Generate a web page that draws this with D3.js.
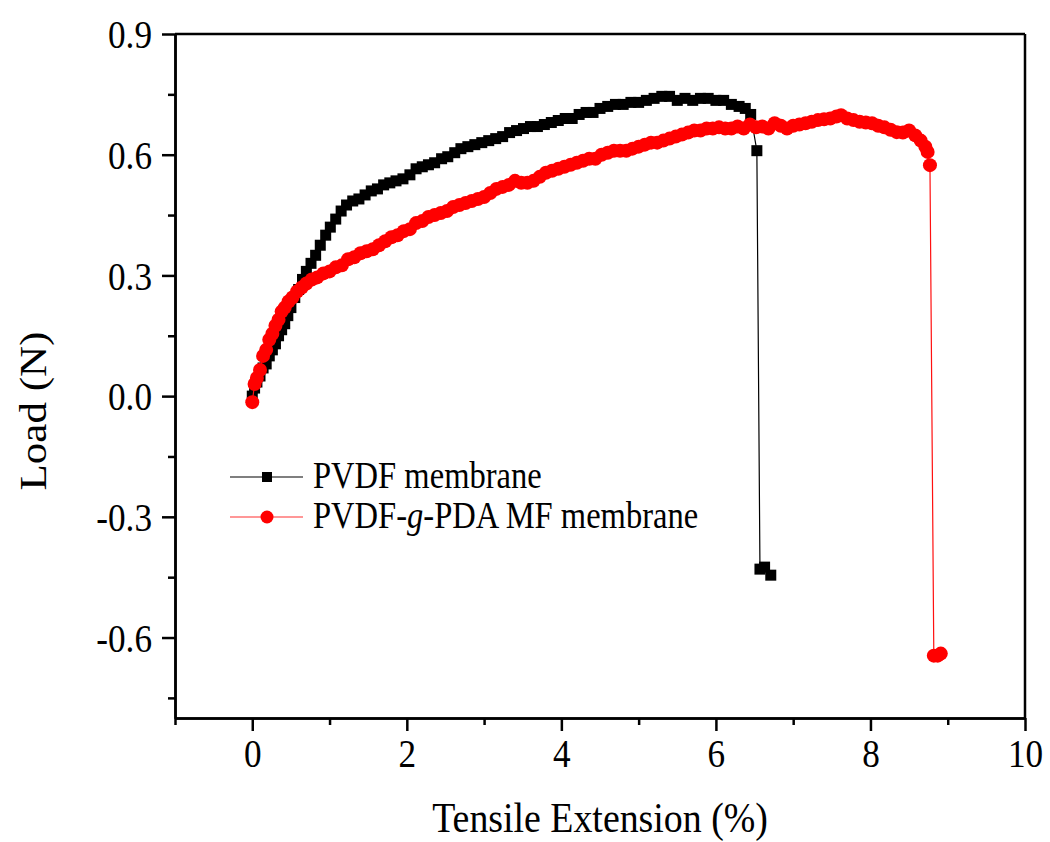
<!DOCTYPE html>
<html>
<head>
<meta charset="utf-8">
<script src="https://cdn.jsdelivr.net/npm/d3@7"></script>
<style>
  body { margin: 0; background: #fff; }
  text { font-family: "Liberation Serif", "Times New Roman", serif; fill: #000; }
</style>
</head>
<body>
<svg id="tensile-chart-svg" width="1050" height="842"></svg>
<script>
// PVDF membrane (black squares)
let pvdfExt = [0.00, 0.03, 0.06, 0.10, 0.14, 0.18, 0.22, 0.26, 0.30, 0.34, 0.38, 0.42, 0.46, 0.50, 0.55,
    0.60, 0.65, 0.70, 0.76, 0.82, 0.88, 0.95, 1.01, 1.08, 1.15, 1.22, 1.30, 1.38, 1.46, 1.54, 1.62, 1.70,
    1.78, 1.86, 1.95, 2.04, 2.12, 2.20, 2.28, 2.36, 2.45, 2.53, 2.62, 2.70, 2.79, 2.88, 2.97, 3.06, 3.15,
    3.24, 3.33, 3.42, 3.51, 3.60, 3.69, 3.78, 3.87, 3.96, 4.05, 4.14, 4.23, 4.32, 4.41, 4.50, 4.60, 4.70,
    4.80, 4.90, 5.00, 5.10, 5.20, 5.30, 5.40, 5.50, 5.60, 5.70, 5.80, 5.90, 6.00, 6.10, 6.20, 6.30, 6.38,
    6.45, 6.53, 6.57, 6.63, 6.71];
let pvdfLoad = [0.000, 0.020, 0.035, 0.050, 0.070, 0.080, 0.100, 0.115, 0.130, 0.150, 0.165, 0.180, 0.200,
    0.220, 0.245, 0.265, 0.290, 0.310, 0.330, 0.350, 0.375, 0.400, 0.420, 0.440, 0.460, 0.475, 0.485, 0.490,
    0.500, 0.510, 0.515, 0.525, 0.530, 0.535, 0.540, 0.550, 0.565, 0.570, 0.575, 0.580, 0.590, 0.595, 0.605,
    0.615, 0.620, 0.625, 0.630, 0.635, 0.640, 0.645, 0.655, 0.660, 0.665, 0.670, 0.670, 0.675, 0.680, 0.685,
    0.690, 0.690, 0.700, 0.705, 0.705, 0.715, 0.720, 0.725, 0.725, 0.730, 0.730, 0.735, 0.740, 0.745, 0.745,
    0.735, 0.740, 0.735, 0.740, 0.740, 0.735, 0.735, 0.725, 0.720, 0.715, 0.700, 0.610, -0.430, -0.425, -0.445];

// PVDF-g-PDA MF membrane (red circles)
let pdaExt = [0.00, 0.03, 0.06, 0.10, 0.14, 0.18, 0.22, 0.26, 0.30, 0.34, 0.38, 0.42, 0.47, 0.52, 0.58,
    0.64, 0.70, 0.77, 0.84, 0.92, 1.00, 1.08, 1.16, 1.24, 1.32, 1.40, 1.48, 1.56, 1.64, 1.72, 1.80, 1.88,
    1.96, 2.04, 2.12, 2.20, 2.28, 2.36, 2.44, 2.52, 2.60, 2.68, 2.76, 2.84, 2.92, 3.00, 3.08, 3.16, 3.24,
    3.32, 3.40, 3.48, 3.56, 3.64, 3.72, 3.80, 3.88, 3.96, 4.04, 4.12, 4.20, 4.28, 4.36, 4.44, 4.52, 4.60,
    4.68, 4.76, 4.84, 4.92, 5.00, 5.08, 5.16, 5.24, 5.32, 5.40, 5.48, 5.56, 5.64, 5.72, 5.80, 5.88, 5.96,
    6.04, 6.12, 6.20, 6.28, 6.36, 6.44, 6.52, 6.60, 6.68, 6.76, 6.84, 6.92, 7.00, 7.08, 7.16, 7.24, 7.32,
    7.40, 7.48, 7.56, 7.62, 7.70, 7.78, 7.86, 7.94, 8.02, 8.10, 8.18, 8.26, 8.34, 8.42, 8.50, 8.58, 8.65,
    8.71, 8.74, 8.77, 8.82, 8.87, 8.91];
let pdaLoad = [-0.015, 0.030, 0.045, 0.065, 0.100, 0.115, 0.140, 0.155, 0.175, 0.190, 0.210, 0.220, 0.235,
    0.245, 0.260, 0.270, 0.280, 0.290, 0.295, 0.305, 0.310, 0.320, 0.325, 0.340, 0.345, 0.355, 0.360, 0.365,
    0.375, 0.385, 0.395, 0.400, 0.410, 0.415, 0.430, 0.435, 0.445, 0.450, 0.455, 0.460, 0.470, 0.475, 0.480,
    0.485, 0.490, 0.495, 0.505, 0.515, 0.520, 0.525, 0.535, 0.530, 0.530, 0.535, 0.545, 0.555, 0.560, 0.565,
    0.570, 0.575, 0.580, 0.585, 0.590, 0.590, 0.600, 0.605, 0.610, 0.610, 0.610, 0.615, 0.620, 0.625, 0.630,
    0.630, 0.635, 0.640, 0.645, 0.650, 0.655, 0.660, 0.660, 0.665, 0.665, 0.668, 0.665, 0.665, 0.670, 0.665,
    0.675, 0.668, 0.670, 0.665, 0.678, 0.672, 0.665, 0.672, 0.675, 0.678, 0.682, 0.686, 0.688, 0.690, 0.695,
    0.698, 0.690, 0.686, 0.682, 0.680, 0.678, 0.672, 0.668, 0.662, 0.656, 0.655, 0.660, 0.648, 0.635, 0.620,
    0.607, 0.574, -0.645, -0.645, -0.640];

let xMajorTicks = [0, 2, 4, 6, 8, 10];
let xMinorTicks = [-1, 1, 3, 5, 7, 9];
let yMajorTicks = [-0.6, -0.3, 0.0, 0.3, 0.6, 0.9];
let yMinorTicks = [-0.75, -0.45, -0.15, 0.15, 0.45, 0.75];

let seriesNames = ["PVDF membrane", "PVDF-g-PDA MF membrane"];

let svg = d3.select('#tensile-chart-svg');
let pad = {t: 34, r: 25, b: 124, l: 175};
let chartW = 1050 - pad.l - pad.r;
let chartH = 842 - pad.t - pad.b;
let squish = 0.88;
let sqSize = 11;
let dotR = 7;

let x = d3.scaleLinear().domain([-1, 10]).range([0, chartW]);
let y = d3.scaleLinear().domain([-0.8, 0.9]).range([chartH, 0]);

let g = svg.append("g").attr("transform", "translate(" + pad.l + "," + pad.t + ")");

// frame (top / right)
g.append("line").attr("x1", 0).attr("x2", chartW).attr("y1", 0).attr("y2", 0)
    .attr("stroke", "#000").attr("stroke-width", 2.5);
g.append("line").attr("x1", chartW).attr("x2", chartW).attr("y1", 0).attr("y2", chartH)
    .attr("stroke", "#000").attr("stroke-width", 2.5);

// bottom axis
let xAxis = g.append("g").attr("transform", "translate(0," + chartH + ")")
    .call(d3.axisBottom(x).tickValues(xMajorTicks).tickSize(13).tickSizeOuter(0).tickFormat(d3.format("d")));
g.append("g").attr("transform", "translate(0," + chartH + ")")
    .call(d3.axisBottom(x).tickValues(xMinorTicks).tickSize(7).tickSizeOuter(0).tickFormat(""));

// left axis (plain hyphen for negatives, as in the original)
let yAxis = g.append("g")
    .call(d3.axisLeft(y).tickValues(yMajorTicks).tickSize(13).tickSizeOuter(0)
        .tickFormat(d => d.toFixed(1)));
g.append("g")
    .call(d3.axisLeft(y).tickValues(yMinorTicks).tickSize(7).tickSizeOuter(0).tickFormat(""));

g.selectAll(".domain").attr("stroke", "#000").attr("stroke-width", 2.5);
g.selectAll(".tick line").attr("stroke", "#000").attr("stroke-width", 2.5);

xAxis.selectAll("text")
    .attr("font-size", "40px")
    .attr("y", 49).attr("dy", 0)
    .attr("transform", "scale(" + squish + ",1)");
yAxis.selectAll("text")
    .attr("font-size", "40px")
    .attr("x", -23 / squish).attr("dy", "0.34em")
    .attr("transform", "scale(" + squish + ",1)");
svg.selectAll(".tick text").attr("font-family", "Liberation Serif, Times New Roman, serif").attr("fill", "#000");

// axis titles
svg.append("text")
    .attr("transform", "translate(600,832) scale(" + squish + ",1)")
    .attr("text-anchor", "middle")
    .attr("font-size", "43px")
    .text("Tensile Extension (%)");

svg.append("text")
    .attr("transform", "translate(46,411) scale(" + squish + ",1) rotate(-90)")
    .attr("text-anchor", "middle")
    .attr("font-size", "43px")
    .text("Load (N)");

// series
let pvdfData = pvdfExt.map((v, i) => ({x: v, y: pvdfLoad[i]}));
let pdaData = pdaExt.map((v, i) => ({x: v, y: pdaLoad[i]}));

let line = d3.line().x(d => x(d.x)).y(d => y(d.y));

g.append("path").datum(pvdfData)
    .attr("d", line).attr("fill", "none").attr("stroke", "#000").attr("stroke-width", 1.2);
g.selectAll(".sq").data(pvdfData).enter()
    .append("rect")
    .attr("class", "sq")
    .attr("x", d => x(d.x) - sqSize / 2)
    .attr("y", d => y(d.y) - sqSize / 2)
    .attr("width", sqSize).attr("height", sqSize)
    .attr("fill", "#000");

g.append("path").datum(pdaData)
    .attr("d", line).attr("fill", "none").attr("stroke", "#ff1010").attr("stroke-width", 1.2);
g.selectAll(".dot").data(pdaData).enter()
    .append("circle")
    .attr("class", "dot")
    .attr("cx", d => x(d.x))
    .attr("cy", d => y(d.y))
    .attr("r", dotR)
    .attr("fill", "#ff0000");

// legend
let legend = svg.append("g").attr("transform", "translate(230,477)");
let rowGap = 40;

legend.append("line").attr("x1", 0).attr("x2", 73).attr("y1", 0).attr("y2", 0)
    .attr("stroke", "#000").attr("stroke-width", 1.2);
legend.append("rect").attr("x", 32).attr("y", -5).attr("width", 10).attr("height", 10).attr("fill", "#000");
legend.append("text")
    .attr("transform", "translate(83,11) scale(" + squish + ",1)")
    .attr("font-size", "37px")
    .text(seriesNames[0]);

legend.append("line").attr("x1", 0).attr("x2", 73).attr("y1", rowGap).attr("y2", rowGap)
    .attr("stroke", "#ff3030").attr("stroke-width", 1.2);
legend.append("circle").attr("cx", 37).attr("cy", rowGap).attr("r", 6.5).attr("fill", "#ff0000");
let t2 = legend.append("text")
    .attr("transform", "translate(83," + (rowGap + 11) + ") scale(" + squish + ",1)")
    .attr("font-size", "37px");
t2.append("tspan").text("PVDF-");
t2.append("tspan").attr("font-style", "italic").text("g");
t2.append("tspan").text("-PDA MF membrane");
</script>
</body>
</html>
